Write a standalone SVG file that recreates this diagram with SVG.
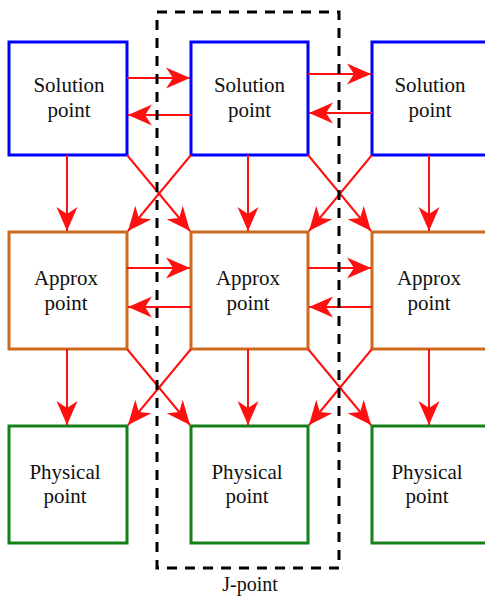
<svg xmlns="http://www.w3.org/2000/svg" width="485" height="601" viewBox="0 0 485 601">
<defs>
<style>
.box{fill:#fff;stroke-width:3}
.sol{stroke:#0000ff}
.app{stroke:#cc6a1e}
.phy{stroke:#14801a}
.lbl{font-family:"Liberation Serif","Times New Roman",serif;font-size:21px;fill:#111;text-anchor:middle}
.c{stroke:#ff1010;stroke-width:2;fill:none;marker-end:url(#ah)}
</style>
<marker id="ah" viewBox="-26 -12 27 24" refX="0" refY="0" markerWidth="27" markerHeight="24" markerUnits="userSpaceOnUse" orient="auto">
<path d="M0,0 L-24,-10.5 L-17,0 L-24,10.5 Z" fill="#ff1010"/>
</marker>
</defs>
<rect width="485" height="601" fill="#fff"/>
<g id="nodes" font-family="Liberation Serif, serif">
<g id="s1"><rect class="box sol" x="9" y="42" width="118" height="113"/><text class="lbl" x="69" y="92">Solution</text><text class="lbl" x="69" y="117">point</text></g>
<g id="s2"><rect class="box sol" x="191" y="42" width="117" height="113"/><text class="lbl" x="249.5" y="92">Solution</text><text class="lbl" x="249.5" y="117">point</text></g>
<g id="s3"><rect class="box sol" x="372" y="42" width="118" height="113"/><text class="lbl" x="430" y="92">Solution</text><text class="lbl" x="430" y="117">point</text></g>
<g id="a1"><rect class="box app" x="9" y="232" width="118" height="117"/><text class="lbl" x="66" y="285">Approx</text><text class="lbl" x="66" y="310">point</text></g>
<g id="a2"><rect class="box app" x="191" y="232" width="117" height="117"/><text class="lbl" x="248" y="285">Approx</text><text class="lbl" x="248" y="310">point</text></g>
<g id="a3"><rect class="box app" x="372" y="232" width="118" height="117"/><text class="lbl" x="429" y="285">Approx</text><text class="lbl" x="429" y="310">point</text></g>
<g id="p1"><rect class="box phy" x="9" y="426" width="118" height="117"/><text class="lbl" x="65" y="479">Physical</text><text class="lbl" x="65" y="503">point</text></g>
<g id="p2"><rect class="box phy" x="191" y="426" width="117" height="117"/><text class="lbl" x="247" y="479">Physical</text><text class="lbl" x="247" y="503">point</text></g>
<g id="p3"><rect class="box phy" x="372" y="426" width="118" height="117"/><text class="lbl" x="427" y="479">Physical</text><text class="lbl" x="427" y="503">point</text></g>
</g>
<g id="connectors">
<line class="c" x1="127" y1="78" x2="190" y2="78"/>
<line class="c" x1="191" y1="115" x2="128" y2="115"/>
<line class="c" x1="308" y1="74" x2="371" y2="74"/>
<line class="c" x1="372" y1="113" x2="309" y2="113"/>
<line class="c" x1="127" y1="268" x2="190" y2="268"/>
<line class="c" x1="191" y1="307" x2="128" y2="307"/>
<line class="c" x1="308" y1="268" x2="371" y2="268"/>
<line class="c" x1="372" y1="307" x2="309" y2="307"/>
<line class="c" x1="67" y1="155" x2="67" y2="231"/>
<line class="c" x1="248" y1="155" x2="248" y2="231"/>
<line class="c" x1="429" y1="155" x2="429" y2="231"/>
<line class="c" x1="67" y1="349" x2="67" y2="425"/>
<line class="c" x1="248" y1="349" x2="248" y2="425"/>
<line class="c" x1="429" y1="349" x2="429" y2="425"/>
<line class="c" x1="127" y1="155" x2="190" y2="231"/>
<line class="c" x1="191" y1="155" x2="128" y2="231"/>
<line class="c" x1="308" y1="155" x2="371" y2="231"/>
<line class="c" x1="372" y1="155" x2="309" y2="231"/>
<line class="c" x1="127" y1="349" x2="190" y2="425"/>
<line class="c" x1="191" y1="349" x2="128" y2="425"/>
<line class="c" x1="308" y1="349" x2="371" y2="425"/>
<line class="c" x1="372" y1="349" x2="309" y2="425"/>
</g>
<g id="jpoint">
<rect x="157" y="12" width="182" height="556" fill="none" stroke="#000" stroke-width="3" stroke-dasharray="10,8"/>
<text class="lbl" x="250" y="591" style="font-size:20px">J-point</text>
</g>
</svg>
